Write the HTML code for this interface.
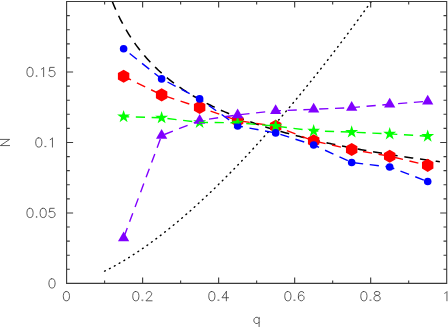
<!DOCTYPE html>
<html><head><meta charset="utf-8"><title>chart</title>
<style>html,body{margin:0;padding:0;background:#fff;overflow:hidden}body{width:448px;height:327px;position:relative;font-family:"Liberation Sans",sans-serif}</style></head>
<body>
<svg width="448" height="327" viewBox="0 0 448 327" style="position:absolute;left:0;top:0;display:block">
<rect width="448" height="327" fill="#fff"/>
<defs><clipPath id="c"><rect x="66.60" y="1.55" width="380.10" height="281.85"/></clipPath></defs>
<g clip-path="url(#c)" fill="none">
<polyline points="112.29,1.55 113.92,5.49 115.56,9.25 117.20,12.83 118.84,16.26 120.47,19.54 122.11,22.68 123.75,25.70 125.39,28.59 127.03,31.38 128.66,34.06 130.30,36.64 131.94,39.14 133.58,41.54 135.22,43.87 136.85,46.12 138.49,48.30 140.13,50.41 141.77,52.45 143.40,54.43 145.04,56.36 146.68,58.23 148.32,60.04 149.96,61.81 151.59,63.53 153.23,65.20 154.87,66.83 156.51,68.41 158.15,69.96 159.78,71.47 161.42,72.94 163.06,74.38 164.70,75.78 166.33,77.15 167.97,78.49 169.61,79.80 171.25,81.08 172.89,82.33 174.52,83.56 176.16,84.76 177.80,85.94 179.44,87.09 181.08,88.22 182.71,89.32 184.35,90.41 185.99,91.47 187.63,92.51 189.26,93.54 190.90,94.54 192.54,95.53 194.18,96.50 195.82,97.45 197.45,98.38 199.09,99.30 200.73,100.20 202.37,101.09 204.01,101.96 205.64,102.82 207.28,103.66 208.92,104.49 210.56,105.31 212.19,106.12 213.83,106.91 215.47,107.69 217.11,108.45 218.75,109.21 220.38,109.95 222.02,110.69 223.66,111.41 225.30,112.12 226.94,112.82 228.57,113.52 230.21,114.20 231.85,114.87 233.49,115.54 235.13,116.19 236.76,116.84 238.40,117.47 240.04,118.10 241.68,118.72 243.31,119.33 244.95,119.94 246.59,120.53 248.23,121.12 249.87,121.71 251.50,122.28 253.14,122.85 254.78,123.41 256.42,123.96 258.06,124.51 259.69,125.05 261.33,125.58 262.97,126.11 264.61,126.63 266.24,127.15 267.88,127.66 269.52,128.16 271.16,128.66 272.80,129.15 274.43,129.64 276.07,130.12 277.71,130.60 279.35,131.07 280.99,131.54 282.62,132.00 284.26,132.46 285.90,132.91 287.54,133.36 289.17,133.80 290.81,134.24 292.45,134.67 294.09,135.10 295.73,135.52 297.36,135.94 299.00,136.36 300.64,136.77 302.28,137.18 303.92,137.59 305.55,137.99 307.19,138.38 308.83,138.78 310.47,139.17 312.10,139.55 313.74,139.93 315.38,140.31 317.02,140.69 318.66,141.06 320.29,141.43 321.93,141.79 323.57,142.15 325.21,142.51 326.85,142.87 328.48,143.22 330.12,143.57 331.76,143.92 333.40,144.26 335.03,144.60 336.67,144.94 338.31,145.27 339.95,145.60 341.59,145.93 343.22,146.26 344.86,146.58 346.50,146.90 348.14,147.22 349.78,147.54 351.41,147.85 353.05,148.16 354.69,148.47 356.33,148.77 357.96,149.08 359.60,149.38 361.24,149.68 362.88,149.97 364.52,150.27 366.15,150.56 367.79,150.85 369.43,151.13 371.07,151.42 372.71,151.70 374.34,151.98 375.98,152.26 377.62,152.54 379.26,152.81 380.90,153.09 382.53,153.36 384.17,153.62 385.81,153.89 387.45,154.16 389.08,154.42 390.72,154.68 392.36,154.94 394.00,155.20 395.64,155.45 397.27,155.71 398.91,155.96 400.55,156.21 402.19,156.46 403.83,156.70 405.46,156.95 407.10,157.19 408.74,157.44 410.38,157.68 412.01,157.92 413.65,158.15 415.29,158.39 416.93,158.62 418.57,158.85 420.20,159.09 421.84,159.32 423.48,159.54 425.12,159.77 426.76,160.00 428.39,160.22 430.03,160.44 431.67,160.66 433.31,160.88 434.94,161.10 436.58,161.32 438.22,161.53 439.86,161.75" stroke="#000" stroke-width="1.55" stroke-dasharray="9.0 6.82" stroke-dashoffset="0.3"/>
<polyline points="104.61,271.11 106.00,270.43 107.38,269.73 108.77,269.03 110.16,268.31 111.55,267.58 112.93,266.84 114.32,266.09 115.71,265.33 117.10,264.55 118.48,263.77 119.87,262.97 121.26,262.17 122.65,261.35 124.03,260.52 125.42,259.69 126.81,258.84 128.20,257.98 129.58,257.12 130.97,256.24 132.36,255.36 133.74,254.46 135.13,253.56 136.52,252.64 137.91,251.72 139.29,250.79 140.68,249.84 142.07,248.89 143.46,247.94 144.84,246.97 146.23,245.99 147.62,245.01 149.01,244.01 150.39,243.01 151.78,242.00 153.17,240.98 154.56,239.95 155.94,238.92 157.33,237.87 158.72,236.82 160.10,235.76 161.49,234.69 162.88,233.62 164.27,232.54 165.65,231.44 167.04,230.35 168.43,229.24 169.82,228.12 171.20,227.00 172.59,225.87 173.98,224.74 175.37,223.59 176.75,222.44 178.14,221.28 179.53,220.11 180.92,218.94 182.30,217.76 183.69,216.57 185.08,215.38 186.46,214.17 187.85,212.96 189.24,211.75 190.63,210.52 192.01,209.29 193.40,208.06 194.79,206.81 196.18,205.56 197.56,204.30 198.95,203.04 200.34,201.77 201.73,200.49 203.11,199.21 204.50,197.91 205.89,196.62 207.28,195.31 208.66,194.00 210.05,192.69 211.44,191.36 212.82,190.03 214.21,188.69 215.60,187.35 216.99,186.00 218.37,184.65 219.76,183.29 221.15,181.92 222.54,180.54 223.92,179.16 225.31,177.78 226.70,176.38 228.09,174.99 229.47,173.58 230.86,172.17 232.25,170.75 233.63,169.33 235.02,167.90 236.41,166.47 237.80,165.03 239.18,163.58 240.57,162.13 241.96,160.67 243.35,159.20 244.73,157.73 246.12,156.26 247.51,154.78 248.90,153.29 250.28,151.80 251.67,150.30 253.06,148.79 254.45,147.28 255.83,145.77 257.22,144.24 258.61,142.72 259.99,141.18 261.38,139.65 262.77,138.10 264.16,136.55 265.54,135.00 266.93,133.44 268.32,131.87 269.71,130.30 271.09,128.73 272.48,127.14 273.87,125.56 275.26,123.96 276.64,122.36 278.03,120.76 279.42,119.15 280.81,117.54 282.19,115.92 283.58,114.29 284.97,112.66 286.35,111.03 287.74,109.39 289.13,107.74 290.52,106.09 291.90,104.44 293.29,102.78 294.68,101.11 296.07,99.44 297.45,97.76 298.84,96.08 300.23,94.39 301.62,92.70 303.00,91.00 304.39,89.30 305.78,87.60 307.17,85.88 308.55,84.17 309.94,82.45 311.33,80.72 312.71,78.99 314.10,77.25 315.49,75.51 316.88,73.76 318.26,72.01 319.65,70.25 321.04,68.49 322.43,66.73 323.81,64.96 325.20,63.18 326.59,61.40 327.98,59.62 329.36,57.83 330.75,56.03 332.14,54.23 333.53,52.43 334.91,50.62 336.30,48.80 337.69,46.98 339.07,45.16 340.46,43.33 341.85,41.50 343.24,39.66 344.62,37.82 346.01,35.97 347.40,34.12 348.79,32.27 350.17,30.41 351.56,28.54 352.95,26.67 354.34,24.80 355.72,22.92 357.11,21.04 358.50,19.15 359.89,17.26 361.27,15.36 362.66,13.46 364.05,11.55 365.43,9.64 366.82,7.73 368.21,5.81 369.60,3.88 370.98,1.95 372.37,0.02 373.76,-1.92 375.15,-3.86 376.53,-5.80 377.92,-7.76 379.31,-9.71 380.70,-11.67 382.08,-13.63" stroke="#000" stroke-width="1.45" stroke-linecap="round" stroke-dasharray="0.75 4.77"/>
<polygon points="123.61,69.65 129.33,72.95 129.33,79.55 123.61,82.85 117.90,79.55 117.90,72.95" fill="#ff0000"/><polygon points="161.62,88.30 167.34,91.60 167.34,98.20 161.62,101.50 155.91,98.20 155.91,91.60" fill="#ff0000"/><polygon points="199.63,100.80 205.35,104.10 205.35,110.70 199.63,114.00 193.92,110.70 193.92,104.10" fill="#ff0000"/><polygon points="237.65,113.90 243.36,117.20 243.36,123.80 237.65,127.10 231.93,123.80 231.93,117.20" fill="#ff0000"/><polygon points="275.66,119.80 281.37,123.10 281.37,129.70 275.66,133.00 269.94,129.70 269.94,123.10" fill="#ff0000"/><polygon points="313.67,134.30 319.38,137.60 319.38,144.20 313.67,147.50 307.95,144.20 307.95,137.60" fill="#ff0000"/><polygon points="351.68,142.90 357.39,146.20 357.39,152.80 351.68,156.10 345.96,152.80 345.96,146.20" fill="#ff0000"/><polygon points="389.69,149.65 395.40,152.95 395.40,159.55 389.69,162.85 383.97,159.55 383.97,152.95" fill="#ff0000"/><polygon points="427.70,158.70 433.41,162.00 433.41,168.60 427.70,171.90 421.98,168.60 421.98,162.00" fill="#ff0000"/>
<polyline points="123.61,76.25 161.62,94.90 199.63,107.40 237.65,120.50 275.66,126.40 313.67,140.90 351.68,149.50 389.69,156.25 427.70,165.30" stroke="#ff0000" stroke-width="1.4" stroke-dasharray="9.2 6.62" stroke-dashoffset="1.0"/>
<polygon points="123.61,109.90 125.14,114.60 130.08,114.60 126.09,117.50 127.61,122.20 123.61,119.30 119.62,122.20 121.14,117.50 117.15,114.60 122.09,114.60" fill="#00ff00"/><polygon points="161.62,111.00 163.15,115.70 168.09,115.70 164.10,118.60 165.62,123.30 161.62,120.40 157.63,123.30 159.15,118.60 155.16,115.70 160.10,115.70" fill="#00ff00"/><polygon points="199.63,115.60 201.16,120.30 206.10,120.30 202.11,123.20 203.63,127.90 199.63,125.00 195.64,127.90 197.16,123.20 193.17,120.30 198.11,120.30" fill="#00ff00"/><polygon points="237.65,116.00 239.17,120.70 244.11,120.70 240.12,123.60 241.64,128.30 237.65,125.40 233.65,128.30 235.17,123.60 231.18,120.70 236.12,120.70" fill="#00ff00"/><polygon points="275.66,119.30 277.18,124.00 282.12,124.00 278.13,126.90 279.65,131.60 275.66,128.70 271.66,131.60 273.18,126.90 269.19,124.00 274.13,124.00" fill="#00ff00"/><polygon points="313.67,124.10 315.19,128.80 320.13,128.80 316.14,131.70 317.66,136.40 313.67,133.50 309.67,136.40 311.19,131.70 307.20,128.80 312.14,128.80" fill="#00ff00"/><polygon points="351.68,125.30 353.20,130.00 358.14,130.00 354.15,132.90 355.67,137.60 351.68,134.70 347.68,137.60 349.20,132.90 345.21,130.00 350.15,130.00" fill="#00ff00"/><polygon points="389.69,127.10 391.21,131.80 396.15,131.80 392.16,134.70 393.68,139.40 389.69,136.50 385.69,139.40 387.21,134.70 383.22,131.80 388.16,131.80" fill="#00ff00"/><polygon points="427.70,129.40 429.22,134.10 434.16,134.10 430.17,137.00 431.69,141.70 427.70,138.80 423.70,141.70 425.22,137.00 421.23,134.10 426.17,134.10" fill="#00ff00"/>
<polyline points="123.61,48.75 161.62,78.90 199.63,98.90 237.65,125.90 275.66,132.90 313.67,145.00 351.68,162.50 389.69,167.00 427.70,181.50" stroke="#0000ff" stroke-width="1.4" stroke-dasharray="9.2 6.62" stroke-dashoffset="8.1"/>
<circle cx="123.61" cy="48.75" r="3.80" fill="#0000ff"/><circle cx="161.62" cy="78.90" r="3.80" fill="#0000ff"/><circle cx="199.63" cy="98.90" r="3.80" fill="#0000ff"/><circle cx="237.65" cy="125.90" r="3.80" fill="#0000ff"/><circle cx="275.66" cy="132.90" r="3.80" fill="#0000ff"/><circle cx="313.67" cy="145.00" r="3.80" fill="#0000ff"/><circle cx="351.68" cy="162.50" r="3.80" fill="#0000ff"/><circle cx="389.69" cy="167.00" r="3.80" fill="#0000ff"/><circle cx="427.70" cy="181.50" r="3.80" fill="#0000ff"/>
<polygon points="123.61,231.40 129.24,241.15 117.99,241.15" fill="#8000ff"/><polygon points="161.62,129.10 167.25,138.85 156.00,138.85" fill="#8000ff"/><polygon points="199.63,114.00 205.26,123.75 194.01,123.75" fill="#8000ff"/><polygon points="237.65,108.40 243.27,118.15 232.02,118.15" fill="#8000ff"/><polygon points="275.66,104.30 281.28,114.05 270.03,114.05" fill="#8000ff"/><polygon points="313.67,102.80 319.29,112.55 308.04,112.55" fill="#8000ff"/><polygon points="351.68,101.10 357.30,110.85 346.05,110.85" fill="#8000ff"/><polygon points="389.69,97.80 395.31,107.55 384.06,107.55" fill="#8000ff"/><polygon points="427.70,94.70 433.32,104.45 422.07,104.45" fill="#8000ff"/>
<polyline points="123.61,237.90 161.62,135.60 199.63,120.50 237.65,114.90 275.66,110.80 313.67,109.30 351.68,107.60 389.69,104.30 427.70,101.20" stroke="#8000ff" stroke-width="1.4" stroke-dasharray="9.2 6.62" stroke-dashoffset="14.5"/>
<polyline points="123.61,116.70 161.62,117.80 199.63,122.40 237.65,122.80 275.66,126.10 313.67,130.90 351.68,132.10 389.69,133.90 427.70,136.20" stroke="#00ff00" stroke-width="1.4" stroke-dasharray="9.2 6.62" stroke-dashoffset="3.6"/>
</g>
<path d="M66.60 1.55 H446.70 V283.40 H66.60 Z M104.61 283.40 v-3.00 M104.61 1.55 v3.00 M142.62 283.40 v-6.00 M142.62 1.55 v6.00 M180.63 283.40 v-3.00 M180.63 1.55 v3.00 M218.64 283.40 v-6.00 M218.64 1.55 v6.00 M256.65 283.40 v-3.00 M256.65 1.55 v3.00 M294.66 283.40 v-6.00 M294.66 1.55 v6.00 M332.67 283.40 v-3.00 M332.67 1.55 v3.00 M370.68 283.40 v-6.00 M370.68 1.55 v6.00 M408.69 283.40 v-3.00 M408.69 1.55 v3.00 M66.60 269.31 h3.20 M446.70 269.31 h-3.20 M66.60 255.21 h3.20 M446.70 255.21 h-3.20 M66.60 241.12 h3.20 M446.70 241.12 h-3.20 M66.60 227.03 h3.20 M446.70 227.03 h-3.20 M66.60 212.94 h6.50 M446.70 212.94 h-6.50 M66.60 198.84 h3.20 M446.70 198.84 h-3.20 M66.60 184.75 h3.20 M446.70 184.75 h-3.20 M66.60 170.66 h3.20 M446.70 170.66 h-3.20 M66.60 156.57 h3.20 M446.70 156.57 h-3.20 M66.60 142.47 h6.50 M446.70 142.47 h-6.50 M66.60 128.38 h3.20 M446.70 128.38 h-3.20 M66.60 114.29 h3.20 M446.70 114.29 h-3.20 M66.60 100.20 h3.20 M446.70 100.20 h-3.20 M66.60 86.11 h3.20 M446.70 86.11 h-3.20 M66.60 72.01 h6.50 M446.70 72.01 h-6.50 M66.60 57.92 h3.20 M446.70 57.92 h-3.20 M66.60 43.83 h3.20 M446.70 43.83 h-3.20 M66.60 29.74 h3.20 M446.70 29.74 h-3.20 M66.60 15.64 h3.20 M446.70 15.64 h-3.20" fill="none" stroke="#3a3a3a" stroke-width="1.12"/>
<path transform="translate(66.40 300.80)" d="M-0.44 -9.24 L-1.76 -8.80 L-2.64 -7.48 L-3.08 -5.28 L-3.08 -3.96 L-2.64 -1.76 L-1.76 -0.44 L-0.44 0.00 L0.44 0.00 L1.76 -0.44 L2.64 -1.76 L3.08 -3.96 L3.08 -5.28 L2.64 -7.48 L1.76 -8.80 L0.44 -9.24 L-0.44 -9.24" fill="none" stroke="#333" stroke-width="0.80" stroke-linecap="round" stroke-linejoin="round"/>
<path transform="translate(142.42 300.80)" d="M-7.04 -9.24 L-8.36 -8.80 L-9.24 -7.48 L-9.68 -5.28 L-9.68 -3.96 L-9.24 -1.76 L-8.36 -0.44 L-7.04 0.00 L-6.16 0.00 L-4.84 -0.44 L-3.96 -1.76 L-3.52 -3.96 L-3.52 -5.28 L-3.96 -7.48 L-4.84 -8.80 L-6.16 -9.24 L-7.04 -9.24 M0.00 -0.88 L-0.44 -0.44 L0.00 0.00 L0.44 -0.44 L0.00 -0.88 M3.96 -7.04 L3.96 -7.48 L4.40 -8.36 L4.84 -8.80 L5.72 -9.24 L7.48 -9.24 L8.36 -8.80 L8.80 -8.36 L9.24 -7.48 L9.24 -6.60 L8.80 -5.72 L7.92 -4.40 L3.52 0.00 L9.68 0.00" fill="none" stroke="#333" stroke-width="0.80" stroke-linecap="round" stroke-linejoin="round"/>
<path transform="translate(218.44 300.80)" d="M-7.04 -9.24 L-8.36 -8.80 L-9.24 -7.48 L-9.68 -5.28 L-9.68 -3.96 L-9.24 -1.76 L-8.36 -0.44 L-7.04 0.00 L-6.16 0.00 L-4.84 -0.44 L-3.96 -1.76 L-3.52 -3.96 L-3.52 -5.28 L-3.96 -7.48 L-4.84 -8.80 L-6.16 -9.24 L-7.04 -9.24 M0.00 -0.88 L-0.44 -0.44 L0.00 0.00 L0.44 -0.44 L0.00 -0.88 M7.92 -9.24 L3.52 -3.08 L10.12 -3.08 M7.92 -9.24 L7.92 0.00" fill="none" stroke="#333" stroke-width="0.80" stroke-linecap="round" stroke-linejoin="round"/>
<path transform="translate(294.46 300.80)" d="M-7.04 -9.24 L-8.36 -8.80 L-9.24 -7.48 L-9.68 -5.28 L-9.68 -3.96 L-9.24 -1.76 L-8.36 -0.44 L-7.04 0.00 L-6.16 0.00 L-4.84 -0.44 L-3.96 -1.76 L-3.52 -3.96 L-3.52 -5.28 L-3.96 -7.48 L-4.84 -8.80 L-6.16 -9.24 L-7.04 -9.24 M0.00 -0.88 L-0.44 -0.44 L0.00 0.00 L0.44 -0.44 L0.00 -0.88 M9.24 -7.92 L8.80 -8.80 L7.48 -9.24 L6.60 -9.24 L5.28 -8.80 L4.40 -7.48 L3.96 -5.28 L3.96 -3.08 L4.40 -1.32 L5.28 -0.44 L6.60 0.00 L7.04 0.00 L8.36 -0.44 L9.24 -1.32 L9.68 -2.64 L9.68 -3.08 L9.24 -4.40 L8.36 -5.28 L7.04 -5.72 L6.60 -5.72 L5.28 -5.28 L4.40 -4.40 L3.96 -3.08" fill="none" stroke="#333" stroke-width="0.80" stroke-linecap="round" stroke-linejoin="round"/>
<path transform="translate(370.48 300.80)" d="M-7.04 -9.24 L-8.36 -8.80 L-9.24 -7.48 L-9.68 -5.28 L-9.68 -3.96 L-9.24 -1.76 L-8.36 -0.44 L-7.04 0.00 L-6.16 0.00 L-4.84 -0.44 L-3.96 -1.76 L-3.52 -3.96 L-3.52 -5.28 L-3.96 -7.48 L-4.84 -8.80 L-6.16 -9.24 L-7.04 -9.24 M0.00 -0.88 L-0.44 -0.44 L0.00 0.00 L0.44 -0.44 L0.00 -0.88 M5.72 -9.24 L4.40 -8.80 L3.96 -7.92 L3.96 -7.04 L4.40 -6.16 L5.28 -5.72 L7.04 -5.28 L8.36 -4.84 L9.24 -3.96 L9.68 -3.08 L9.68 -1.76 L9.24 -0.88 L8.80 -0.44 L7.48 0.00 L5.72 0.00 L4.40 -0.44 L3.96 -0.88 L3.52 -1.76 L3.52 -3.08 L3.96 -3.96 L4.84 -4.84 L6.16 -5.28 L7.92 -5.72 L8.80 -6.16 L9.24 -7.04 L9.24 -7.92 L8.80 -8.80 L7.48 -9.24 L5.72 -9.24" fill="none" stroke="#333" stroke-width="0.80" stroke-linecap="round" stroke-linejoin="round"/>
<path transform="translate(446.50 300.80)" d="M-1.76 -7.48 L-0.88 -7.92 L0.44 -9.24 L0.44 0.00" fill="none" stroke="#333" stroke-width="0.80" stroke-linecap="round" stroke-linejoin="round"/>
<path transform="translate(56.40 288.02)" d="M-4.84 -9.24 L-6.16 -8.80 L-7.04 -7.48 L-7.48 -5.28 L-7.48 -3.96 L-7.04 -1.76 L-6.16 -0.44 L-4.84 0.00 L-3.96 0.00 L-2.64 -0.44 L-1.76 -1.76 L-1.32 -3.96 L-1.32 -5.28 L-1.76 -7.48 L-2.64 -8.80 L-3.96 -9.24 L-4.84 -9.24" fill="none" stroke="#333" stroke-width="0.80" stroke-linecap="round" stroke-linejoin="round"/>
<path transform="translate(56.40 217.56)" d="M-26.84 -9.24 L-28.16 -8.80 L-29.04 -7.48 L-29.48 -5.28 L-29.48 -3.96 L-29.04 -1.76 L-28.16 -0.44 L-26.84 0.00 L-25.96 0.00 L-24.64 -0.44 L-23.76 -1.76 L-23.32 -3.96 L-23.32 -5.28 L-23.76 -7.48 L-24.64 -8.80 L-25.96 -9.24 L-26.84 -9.24 M-19.80 -0.88 L-20.24 -0.44 L-19.80 0.00 L-19.36 -0.44 L-19.80 -0.88 M-13.64 -9.24 L-14.96 -8.80 L-15.84 -7.48 L-16.28 -5.28 L-16.28 -3.96 L-15.84 -1.76 L-14.96 -0.44 L-13.64 0.00 L-12.76 0.00 L-11.44 -0.44 L-10.56 -1.76 L-10.12 -3.96 L-10.12 -5.28 L-10.56 -7.48 L-11.44 -8.80 L-12.76 -9.24 L-13.64 -9.24 M-2.20 -9.24 L-6.60 -9.24 L-7.04 -5.28 L-6.60 -5.72 L-5.28 -6.16 L-3.96 -6.16 L-2.64 -5.72 L-1.76 -4.84 L-1.32 -3.52 L-1.32 -2.64 L-1.76 -1.32 L-2.64 -0.44 L-3.96 0.00 L-5.28 0.00 L-6.60 -0.44 L-7.04 -0.88 L-7.48 -1.76" fill="none" stroke="#333" stroke-width="0.80" stroke-linecap="round" stroke-linejoin="round"/>
<path transform="translate(56.40 147.09)" d="M-18.04 -9.24 L-19.36 -8.80 L-20.24 -7.48 L-20.68 -5.28 L-20.68 -3.96 L-20.24 -1.76 L-19.36 -0.44 L-18.04 0.00 L-17.16 0.00 L-15.84 -0.44 L-14.96 -1.76 L-14.52 -3.96 L-14.52 -5.28 L-14.96 -7.48 L-15.84 -8.80 L-17.16 -9.24 L-18.04 -9.24 M-11.00 -0.88 L-11.44 -0.44 L-11.00 0.00 L-10.56 -0.44 L-11.00 -0.88 M-6.16 -7.48 L-5.28 -7.92 L-3.96 -9.24 L-3.96 0.00" fill="none" stroke="#333" stroke-width="0.80" stroke-linecap="round" stroke-linejoin="round"/>
<path transform="translate(56.40 76.63)" d="M-26.84 -9.24 L-28.16 -8.80 L-29.04 -7.48 L-29.48 -5.28 L-29.48 -3.96 L-29.04 -1.76 L-28.16 -0.44 L-26.84 0.00 L-25.96 0.00 L-24.64 -0.44 L-23.76 -1.76 L-23.32 -3.96 L-23.32 -5.28 L-23.76 -7.48 L-24.64 -8.80 L-25.96 -9.24 L-26.84 -9.24 M-19.80 -0.88 L-20.24 -0.44 L-19.80 0.00 L-19.36 -0.44 L-19.80 -0.88 M-14.96 -7.48 L-14.08 -7.92 L-12.76 -9.24 L-12.76 0.00 M-2.20 -9.24 L-6.60 -9.24 L-7.04 -5.28 L-6.60 -5.72 L-5.28 -6.16 L-3.96 -6.16 L-2.64 -5.72 L-1.76 -4.84 L-1.32 -3.52 L-1.32 -2.64 L-1.76 -1.32 L-2.64 -0.44 L-3.96 0.00 L-5.28 0.00 L-6.60 -0.44 L-7.04 -0.88 L-7.48 -1.76" fill="none" stroke="#333" stroke-width="0.80" stroke-linecap="round" stroke-linejoin="round"/>
<path transform="translate(256.70 323.50)" d="M2.42 -6.16 L2.42 3.08 M2.42 -4.84 L1.54 -5.72 L0.66 -6.16 L-0.66 -6.16 L-1.54 -5.72 L-2.42 -4.84 L-2.86 -3.52 L-2.86 -2.64 L-2.42 -1.32 L-1.54 -0.44 L-0.66 0.00 L0.66 0.00 L1.54 -0.44 L2.42 -1.32" fill="none" stroke="#333" stroke-width="0.80" stroke-linecap="round" stroke-linejoin="round"/>
<path transform="translate(9.60 142.50) rotate(-90)" d="M-3.08 0.00 L-3.08 -9.24 L3.08 0.00 L3.08 -9.24" fill="none" stroke="#333" stroke-width="0.80" stroke-linecap="round" stroke-linejoin="round"/>
</svg>
</body></html>
